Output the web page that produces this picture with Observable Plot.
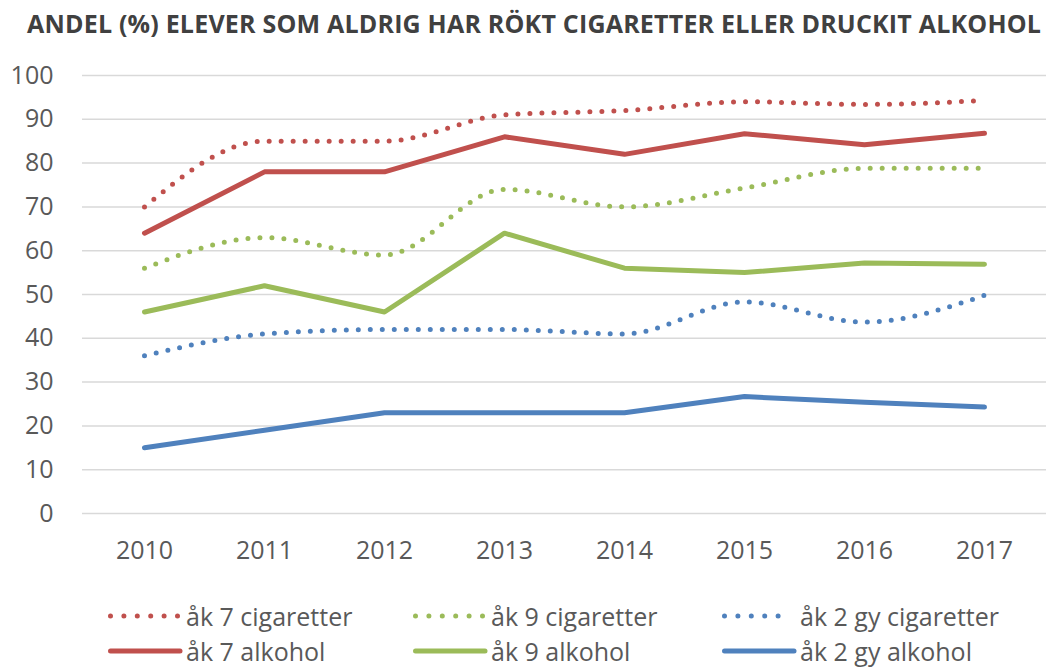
<!DOCTYPE html>
<html>
<head>
<meta charset="utf-8">
<script src="https://cdn.jsdelivr.net/npm/d3@7"></script>
<script src="https://cdn.jsdelivr.net/npm/@observablehq/plot@0.6"></script>
<style>
  body { margin: 0; background: #fff; font-family: "Open Sans", sans-serif; }
  #wrap { position: relative; width: 1046px; height: 669px; overflow: hidden; }
  #title { position: absolute; left: 27px; top: 6px; white-space: nowrap; font-weight: 700; font-size: 25px; color: #404040; letter-spacing: 0.2px; }
  #chart { position: absolute; left: 0; top: 50px; }
  .leg { position: absolute; display: flex; align-items: center; font-size: 25px; line-height: 26px; color: #595959; white-space: nowrap; height: 26px; }
  .leg svg { margin-right: 3px; }
</style>
</head>
<body>
<div id="wrap">
  <div id="title">ANDEL (%) ELEVER SOM ALDRIG HAR RÖKT CIGARETTER ELLER DRUCKIT ALKOHOL</div>
  <div id="chart"></div>
  <div id="legend"></div>
</div>
<script>
const years = [2010, 2011, 2012, 2013, 2014, 2015, 2016, 2017];
const ak7Cig = [70, 85, 85, 91, 92, 94, 93.4, 94.3];
const ak9Cig = [56, 63, 59, 74, 70, 74.3, 78.8, 78.8];
const gyCig  = [36, 41, 42, 42, 41, 48.3, 43.7, 49.8];
const ak7Alk = [64, 78, 78, 86, 82, 86.7, 84.2, 86.8];
const ak9Alk = [46, 52, 46, 64, 56, 55, 57.2, 56.9];
const gyAlk  = [15, 19, 23, 23, 23, 26.7, 25.4, 24.3];
const yTicks = [0, 10, 20, 30, 40, 50, 60, 70, 80, 90, 100];

const seriesNames = ["åk 7 cigaretter", "åk 9 cigaretter", "åk 2 gy cigaretter", "åk 7 alkohol", "åk 9 alkohol", "åk 2 gy alkohol"];
const seriesValues = [ak7Cig, ak9Cig, gyCig, ak7Alk, ak9Alk, gyAlk];
const seriesColors = ["#C0504D", "#9BBB59", "#4F81BD", "#C0504D", "#9BBB59", "#4F81BD"];
const seriesDotted = [true, true, true, false, false, false];

const rows = [];
seriesNames.forEach((name, i) => {
  years.forEach((yr, j) => rows.push({series: name, year: yr, value: seriesValues[i][j]}));
});

const lineMarks = seriesNames.map((name, i) => {
  const data = rows.filter(r => r.series === name);
  return seriesDotted[i]
    ? Plot.line(data, {x: "year", y: "value", stroke: seriesColors[i], strokeWidth: 5, strokeDasharray: "0 12", strokeLinecap: "round", curve: "monotone-x"})
    : Plot.line(data, {x: "year", y: "value", stroke: seriesColors[i], strokeWidth: 5, strokeLinecap: "round", strokeLinejoin: "round"});
});

const chart = Plot.plot({
  width: 1046,
  height: 530,
  marginLeft: 82,
  marginRight: 0,
  marginTop: 25,
  marginBottom: 67,
  style: {fontFamily: "Open Sans, sans-serif", background: "#fff"},
  x: {type: "point", domain: years, padding: 0.5},
  y: {domain: [0, 100]},
  marks: [
    Plot.gridY(yTicks, {stroke: "#d9d9d9", strokeOpacity: 1, strokeWidth: 1.5}),
    Plot.axisY(yTicks, {tickSize: 0, tickPadding: 29, fontSize: 25, fill: "#595959", label: null}),
    Plot.axisX(years, {tickSize: 0, tickPadding: 28, fontSize: 25, fill: "#595959", label: null, tickFormat: d => String(d)}),
    ...lineMarks
  ]
});
document.getElementById("chart").appendChild(chart);

// legend
const legend = document.getElementById("legend");
const legX = [105, 410, 719];
const legY = [603, 638];
seriesNames.forEach((name, i) => {
  const col = i % 3, row = Math.floor(i / 3);
  const div = document.createElement("div");
  div.className = "leg";
  div.style.left = legX[col] + "px";
  div.style.top = legY[row] + "px";
  const ns = "http://www.w3.org/2000/svg";
  const svg = document.createElementNS(ns, "svg");
  svg.setAttribute("width", 78);
  svg.setAttribute("height", 10);
  const ln = document.createElementNS(ns, "line");
  ln.setAttribute("x1", 5.5); ln.setAttribute("x2", seriesDotted[i] ? 72.5 : 75);
  ln.setAttribute("y1", 5); ln.setAttribute("y2", 5);
  ln.setAttribute("stroke", seriesColors[i]);
  ln.setAttribute("stroke-width", 5);
  ln.setAttribute("stroke-linecap", "round");
  if (seriesDotted[i]) ln.setAttribute("stroke-dasharray", "0 13.4");
  svg.appendChild(ln);
  div.appendChild(svg);
  const sp = document.createElement("span");
  sp.textContent = name;
  div.appendChild(sp);
  legend.appendChild(div);
});
</script>
</body>
</html>
